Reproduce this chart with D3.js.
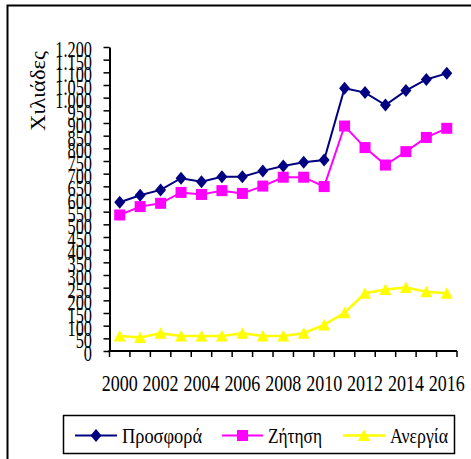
<!DOCTYPE html>
<html>
<head>
<meta charset="utf-8">
<script src="https://cdn.jsdelivr.net/npm/d3@7"></script>
<style>
  body { margin: 0; background: #fff; }
  svg { display: block; }
  text { font-family: "Liberation Serif", "Times New Roman", serif; fill: #000; }
</style>
</head>
<body>
<div id="chart"></div>
<script>
// data (thousands)
const years = d3.range(2000, 2017);
const supply = [587, 615, 636, 682, 668, 688, 688, 711, 730, 745, 754, 1037, 1020, 971, 1028, 1072, 1096];
const demand = [537, 570, 583, 626, 618, 633, 622, 651, 686, 686, 649, 888, 803, 734, 787, 843, 879];
const unemployment = [59, 53, 70, 59, 59, 59, 70, 59, 59, 70, 103, 151, 228, 243, 251, 234, 228];
const seriesNames = ["Προσφορά", "Ζήτηση", "Ανεργία"];
const xTickLabels = [2000, 2002, 2004, 2006, 2008, 2010, 2012, 2014, 2016];
const yTicks = d3.range(0, 1201, 50);

const width = 471, height = 459;

const series = [
  { name: seriesNames[0], values: supply, color: "#000080", shape: "diamond", lw: 2 },
  { name: seriesNames[1], values: demand, color: "#ff00ff", shape: "square", lw: 2 },
  { name: seriesNames[2], values: unemployment, color: "#ffff00", shape: "triangle", lw: 2.5 }
];

const svg = d3.select("#chart")
  .append("svg")
  .attr("width", width)
  .attr("height", height);

// outer frame (runs off the right and bottom edge)
svg.append("rect")
  .attr("x", 7.5).attr("y", 5.5)
  .attr("width", 480).attr("height", 480)
  .attr("fill", "none")
  .attr("stroke", "#000")
  .attr("stroke-width", 2);

const x = d3.scaleBand()
  .domain(years)
  .range([109.5, 457])
  .padding(0);

const y = d3.scaleLinear()
  .domain([0, 1200])
  .range([351, 47]);

const cx = d => x(d) + x.bandwidth() / 2;

const grFormat = d3.formatLocale({ decimal: ",", thousands: ".", grouping: [3], currency: ["", "€"] }).format(",");

// y axis
const yAxis = svg.append("g")
  .attr("transform", "translate(109.5,0)")
  .call(d3.axisLeft(y).tickValues(yTicks).tickSize(6).tickSizeOuter(0).tickFormat(grFormat));
yAxis.select(".domain").attr("stroke", "#000").attr("stroke-width", 2);
yAxis.selectAll(".tick line").attr("stroke", "#000").attr("stroke-width", 1.5);
const sx = 0.68;
yAxis.selectAll(".tick text")
  .attr("x", -17.5 / sx)
  .attr("dy", "0.4em")
  .attr("transform", `scale(${sx},1)`)
  .style("font-family", "'Liberation Serif', serif")
  .style("font-size", "24px");

// x axis: ticks at category edges
const xAxisG = svg.append("g");
xAxisG.append("line")
  .attr("x1", 108.5).attr("x2", 457)
  .attr("y1", 351).attr("y2", 351)
  .attr("stroke", "#000").attr("stroke-width", 2);
xAxisG.selectAll("line.tk")
  .data(years.concat([2017]))
  .join("line")
  .attr("class", "tk")
  .attr("x1", d => d === 2017 ? x(2016) + x.bandwidth() : x(d))
  .attr("x2", d => d === 2017 ? x(2016) + x.bandwidth() : x(d))
  .attr("y1", 351).attr("y2", 357)
  .attr("stroke", "#000").attr("stroke-width", 1.5);
const xs = 0.75;
xAxisG.selectAll("text")
  .data(xTickLabels)
  .join("text")
  .attr("transform", d => `translate(${cx(d)},391) scale(${xs},1)`)
  .attr("text-anchor", "middle")
  .style("font-size", "24px")
  .text(d => d);

// y axis title
svg.append("text")
  .attr("transform", "translate(45,91) rotate(-90)")
  .attr("text-anchor", "middle")
  .attr("textLength", 80)
  .attr("lengthAdjust", "spacingAndGlyphs")
  .style("font-size", "20px")
  .text("Χιλιάδες");

// marker shapes
function marker(sel, shape, color) {
  if (shape === "diamond") {
    sel.append("path").attr("d", "M0,-6.5L5.5,0L0,6.5L-5.5,0Z").attr("fill", color);
  } else if (shape === "square") {
    sel.append("rect").attr("x", -5.5).attr("y", -5.5).attr("width", 11).attr("height", 11).attr("fill", color);
  } else {
    sel.append("path").attr("d", "M0,-6L6,5.5L-6,5.5Z").attr("fill", color);
  }
}

const line = d3.line().x((d, i) => cx(years[i])).y(d => y(d));

series.forEach(s => {
  svg.append("path")
    .datum(s.values)
    .attr("fill", "none")
    .attr("stroke", s.color)
    .attr("stroke-width", s.lw)
    .attr("d", line);
  svg.append("g")
    .selectAll("g")
    .data(s.values)
    .join("g")
    .attr("transform", (d, i) => `translate(${cx(years[i])},${y(d)})`)
    .each(function () { marker(d3.select(this), s.shape, s.color); });
});

// legend
const legend = svg.append("g");
legend.append("rect")
  .attr("x", 63.5).attr("y", 415.5)
  .attr("width", 391).attr("height", 38)
  .attr("fill", "#fff")
  .attr("stroke", "#000")
  .attr("stroke-width", 1.5);

const legendPos = [
  { x0: 75, x1: 117, tx: 122, tw: 80 },
  { x0: 222, x1: 263, tx: 268, tw: 54 },
  { x0: 343, x1: 385, tx: 390, tw: 58 }
];
series.forEach((s, i) => {
  const p = legendPos[i];
  const g = legend.append("g");
  g.append("line")
    .attr("x1", p.x0).attr("x2", p.x1)
    .attr("y1", 435.5).attr("y2", 435.5)
    .attr("stroke", s.color).attr("stroke-width", s.lw);
  marker(g.append("g").attr("transform", `translate(${(p.x0 + p.x1) / 2},435.5)`), s.shape, s.color);
  g.append("text")
    .attr("x", p.tx).attr("y", 443)
    .attr("textLength", p.tw)
    .attr("lengthAdjust", "spacingAndGlyphs")
    .style("font-size", "21px")
    .text(s.name);
});
</script>
</body>
</html>
